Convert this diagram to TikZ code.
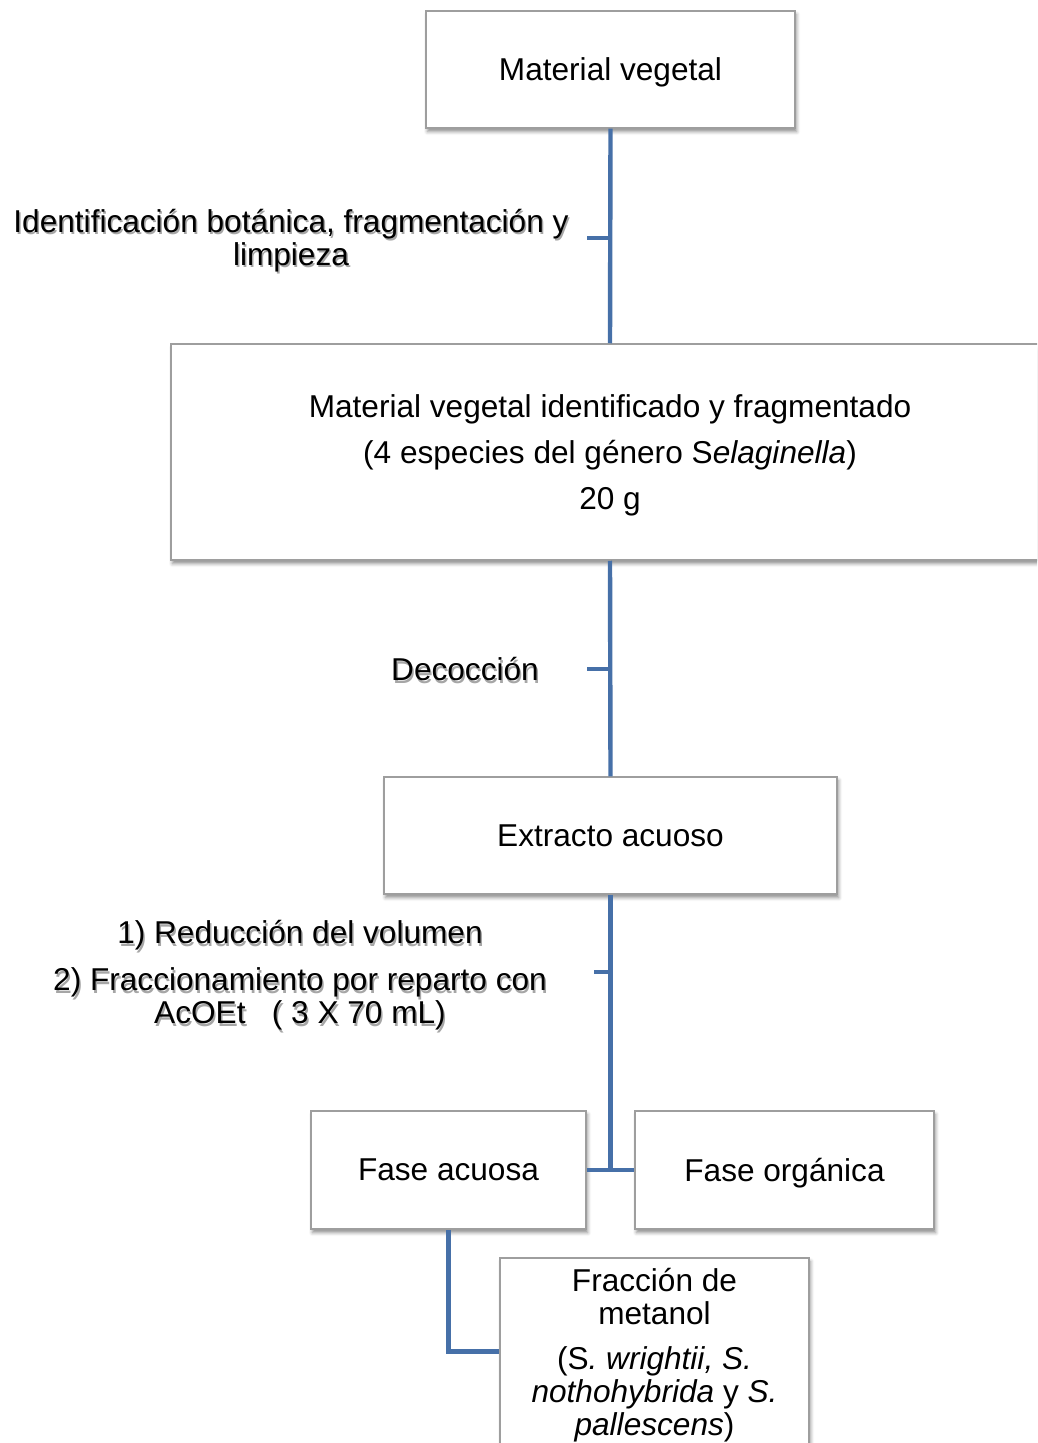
\documentclass[tikz,border=0pt]{standalone}
\usepackage{fontspec}
\setmainfont{Liberation Sans}
\usetikzlibrary{shadows.blur}
\definecolor{linea}{RGB}{70,112,168}
\definecolor{borde}{RGB}{158,158,158}
\newcommand\rotulo[3]{%
  \node[rotulo, text=black!35] at ([shift={(1.5,2.5)}]#2) {#3};
  \node[rotulo] (#1) at (#2) {#3};}
\begin{document}
\begin{tikzpicture}[x=0.5pt, y=-0.5pt,
    caja/.style={draw=borde, line width=0.75pt, fill=white, inner sep=0pt, align=center, text depth=0pt,
      blur shadow={shadow xshift=0.8pt, shadow yshift=-1.8pt, shadow blur radius=1.8pt, shadow opacity=45},
      font=\fontsize{15.8}{16.5}\selectfont},
    rotulo/.style={align=center, inner sep=0pt, text depth=0pt, font=\fontsize{15.8}{16.5}\selectfont},
    conn/.style={draw=linea, line width=2.2pt}]
        \path[use as bounding box, clip] (0,0) rectangle (1037,1443);
        % cajas
        \node[caja, minimum width=184.5pt, minimum height=58.5pt] (mv) at (610.5,69.5) {Material vegetal};
        \node[caja, minimum width=439pt, minimum height=108pt] (mvi) at (610,452)
            {Material vegetal identificado y fragmentado\\[6.5pt]
             (4 especies del género S\textit{elaginella})\\[6.5pt] 20 g};
        \node[caja, minimum width=226.5pt, minimum height=58.5pt] (ea) at (610.5,835.5) {Extracto acuoso};
        \node[caja, minimum width=137.5pt, minimum height=59pt] (fa) at (448.5,1170) {Fase acuosa};
        \node[caja, minimum width=149.5pt, minimum height=59pt] (fo) at (784.5,1170) {Fase orgánica};
        \node[caja, minimum width=154.5pt, minimum height=93.5pt] (fm) at (654.5,1351.5)
            {Fracción de\\metanol\\[6pt]
             (S\textit{. wrightii, S.}\\\textit{nothohybrida} y \textit{S.}\\\textit{pallescens})};
        % rotulos
        \rotulo{r1}{291,237}{Identificación botánica, fragmentación y\\limpieza}
        \rotulo{r2}{465,669}{Decocción}
        \rotulo{r3}{300,972}{1) Reducción del volumen\\[7pt]2) Fraccionamiento por reparto con\\AcOEt\ \ \ ( 3 X 70 mL)}
        % conectores
        \coordinate (t1) at (587,238);
        \coordinate (t2) at (587,669);
        \coordinate (t3) at (594,972);
        \draw[conn] (mv.south) -- (mvi.north);
        \draw[conn] (mvi.south) -- (ea.north);
        \draw[conn] (ea.south) -- (ea.south |- fa.east);
        \draw[conn] (fa.east) -- (fo.west);
        \draw[conn] (fa.south) |- (fm.west);
        \foreach \t in {t1, t2, t3} {
                \draw[conn] (\t) -- (\t -| mv.south);
            }
    \end{tikzpicture}
\end{document}
